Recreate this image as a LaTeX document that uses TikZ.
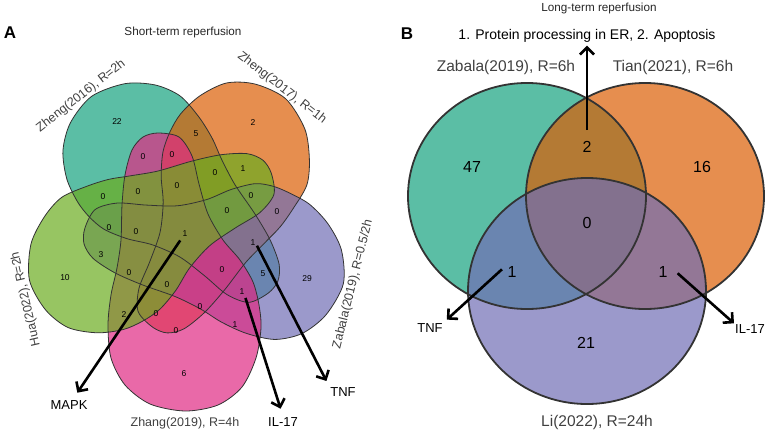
\documentclass[tikz,border=0pt]{standalone}
\usepackage{fontspec}
\setmainfont{Liberation Sans}
\usetikzlibrary{arrows.meta}

\definecolor{vteal}{RGB}{22,163,127}
\definecolor{vorange}{RGB}{219,94,4}
\definecolor{vpurple}{RGB}{112,109,181}
\definecolor{vpink}{RGB}{224,42,131}
\definecolor{vgreen}{RGB}{107,172,31}
\definecolor{edge}{RGB}{51,51,51}
\definecolor{labgrey}{RGB}{64,64,64}

% one petal of the five-set diagram, relative to its centre;
% #1 and #2 pull in its two shoulders
\newcommand{\petal}[2]{plot[smooth cycle] coordinates {(-29,-98) (-8,-94) (5,-75) (12,-47) (21,-17) (36,9) (53,29) (66,50)
  ({72*(1+#1)/2},{70*(1+#1)/2}) ({74*#1},{91*#1}) ({69*#1},{117*#1}) ({55*#1},{143*#1}) ({31*(1+#1)/2},{159*(1+#1)/2})
  (-2,165)
  ({-37*(1+#2)/2},{158*(1+#2)/2}) ({-62*#2},{141*#2}) ({-76*#2},{117*#2}) ({-79*#2},{88*#2}) ({-76*(1+#2)/2},{61*(1+#2)/2})
  (-70,37) (-66,9) (-65,-26) (-62,-56) (-55,-81) (-44,-94)}}
\newcommand{\petalK}{plot[smooth cycle] coordinates {(-29,-98) (-8,-94) (5,-75) (12,-47) (21,-17) (36,9) (53,29) (66,51) (72,74) (74,97) (69,127) (55,156) (31,174) (-2,180) (-37,173) (-62,154) (-76,127) (-79,94) (-76,64) (-70,37) (-66,9) (-65,-26) (-62,-56) (-55,-81) (-44,-94)}}

\begin{document}
\begin{tikzpicture}[x=1pt, y=-1pt,
  setfill/.style={fill=#1, fill opacity=0.7},
  setline/.style={draw=edge, line width=0.8pt},
  ringline/.style={draw=edge, line width=1.8pt},
  setlabel/.style={font=\fontsize{12.5}{14}\selectfont, text=labgrey},
  bigsetlabel/.style={font=\fontsize{15.5}{17}\selectfont, text=labgrey},
  count/.style={font=\fontsize{8.5}{9}\selectfont, inner sep=0pt},
  bigcount/.style={font=\fontsize{16}{18}\selectfont, inner sep=1pt},
  pathway/.style={font=\fontsize{13}{15}\selectfont, inner sep=1pt},
  panel/.style={font=\fontsize{11.7}{13}\selectfont, text=black!85},
  letter/.style={font=\fontsize{17}{19}\selectfont\bfseries},
  pointer/.style={line width=2.6pt, -{Straight Barb[length=7pt,width=14pt]}},
]
\useasboundingbox (0,0) rectangle (769,434);

% Panel A: five sets
\foreach \ang/\col/\r/\l in {216/vteal/0.965/0.97, 144/vorange/1/0.92, 72/vpurple/0.92/1}
  \fill[setfill=\col, shift={(187,231)}, rotate=\ang] \petal{\r}{\l};
\fill[setfill=vpink, shift={(187,231)}] \petalK;
\fill[setfill=vgreen, shift={(187,231)}, rotate=288] \petal{1}{0.93};
\foreach \ang/\r/\l in {216/0.965/0.97, 144/1/0.92, 72/0.92/1, 288/1/0.93}
  \draw[setline, shift={(187,231)}, rotate=\ang] \petal{\r}{\l};
\draw[setline, shift={(187,231)}] \petalK;

% Panel B: three sets
\foreach \c/\col in {{527,196}/vteal, {645,196}/vorange, {587,291}/vpurple}
  \fill[setfill=\col] (\c) ellipse [x radius=119, y radius=113];
\foreach \c in {{527,196}, {645,196}, {587,291}}
  \draw[ringline] (\c) ellipse [x radius=119, y radius=113];

% Titles
\node[letter] (letA) at (10,33) {A};
\node[letter] (letB) at (407,34) {B};
\node[panel] (ttlA) at (183,32) {Short-term reperfusion};
\node[panel] (ttlB) at (599,8) {Long-term reperfusion};

% Set labels
\node[setlabel, rotate=38] (lZ16) at (81,96) {Zheng(2016), R=2h};
\node[setlabel, rotate=-38] (lZ17) at (282,88) {Zheng(2017), R=1h};
\node[setlabel, rotate=76] (lZab) at (353,284) {Zabala(2019), R=0.5/2h};
\node[setlabel] (lZha) at (185,423) {Zhang(2019), R=4h};
\node[setlabel, rotate=103] (lHua) at (26,299) {Hua(2022), R=2h};
\node[bigsetlabel] (lZabB) at (506,67) {Zabala(2019), R=6h};
\node[bigsetlabel] (lTian) at (673,67) {Tian(2021), R=6h};
\node[bigsetlabel] (lLi) at (597,422) {Li(2022), R=24h};

% Counts, panel A
\foreach \nm/\pos/\v in {T/{117,122}/22, O/{253,123}/2, P/{307,279}/29, K/{184,374}/6, G/{65,278}/10,
    TO/{196,134}/5, TK/{143,157}/0, TG/{103,197}/0, OG/{243,169}/1, OP/{277,212}/0,
    TP/{263,274}/5, PK/{235,325}/1, KO/{176,331}/0, GP/{101,255}/3, GK/{124,315}/2,
    TOK/{172,155}/0, TGK/{138,192}/0, TOG/{215,173}/0, POG/{251,196}/0, TOP/{253,243}/1,
    TGP/{109,228}/0, GKP/{129,273}/0, KPO/{200,307}/0, GKO/{156,314}/0, KPT/{242,292}/1,
    KOTG/{177,186}/0, POTG/{227,211}/0, KPTG/{136,232}/0, KPOG/{167,285}/0, KPOT/{222,270}/0,
    all/{185,234}/1}
  \node[count] (\nm) at (\pos) {\v};

% Counts, panel B
\node[bigcount] (bZ) at (472,167) {47};
\node[bigcount] (bZT) at (587,147) {2};
\node[bigcount] (bT) at (702,167) {16};
\node[bigcount] (bAll) at (587,223) {0};
\node[bigcount] (bZL) at (512,272) {1};
\node[bigcount] (bTL) at (663,272) {1};
\node[bigcount] (bL) at (586,343) {21};

% Pathways
\node[pathway] (mapk) at (69,405) {MAPK};
\node[pathway] (tnfA) at (343,392) {TNF};
\node[pathway] (ilA) at (283,422) {IL-17};
\node[pathway] (tnfB) at (430,328) {TNF};
\node[pathway] (ilB) at (750,329) {IL-17};
\node[pathway, font=\fontsize{14}{16}\selectfont] (proc) at (587,36) {1. Protein processing in ER, 2. Apoptosis};

\draw[pointer, shorten <=4pt, shorten >=8pt] (all.south west) -- (mapk);
\draw[pointer, shorten <=3pt, shorten >=6pt] (TOP.east) -- (tnfA.north west);
\draw[pointer, shorten <=3pt, shorten >=8pt] (KPT.south east) -- (ilA.north);
\draw[pointer, shorten <=10pt, shorten >=2pt] (bZT) -- (proc);
\draw[pointer, shorten <=6pt, shorten >=4pt] (bZL.north west) -- (tnfB.north east);
\draw[pointer, shorten <=12pt] (bTL.north east) -- (ilB.north west);
\end{tikzpicture}
\end{document}
